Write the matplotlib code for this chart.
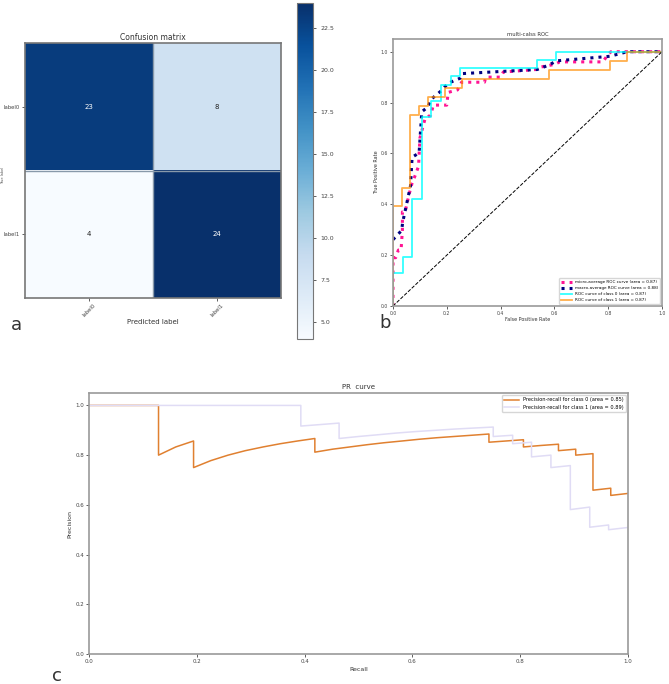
import numpy as np
import matplotlib
matplotlib.use('Agg')
import matplotlib.pyplot as plt

# ---------------------------------------------------------
# data
# ---------------------------------------------------------
cm_labels = ["label0", "label1"]
cm_values = [[23, 8],
             [4, 24]]

# ROC curves (fpr, tpr)
roc0_fpr = [0.0, 0.0, 0.036, 0.036, 0.071, 0.071, 0.107, 0.107, 0.143, 0.143, 0.179, 0.179,
            0.214, 0.214, 0.25, 0.25, 0.536, 0.536, 0.607, 0.607, 1.0]
roc0_tpr = [0.0, 0.129, 0.129, 0.194, 0.194, 0.419, 0.419, 0.742, 0.742, 0.806, 0.806, 0.871,
            0.871, 0.903, 0.903, 0.935, 0.935, 0.968, 0.968, 1.0, 1.0]
roc1_fpr = [0.0, 0.0, 0.032, 0.032, 0.065, 0.065, 0.097, 0.097, 0.129, 0.129, 0.194, 0.194,
            0.258, 0.258, 0.581, 0.581, 0.806, 0.806, 0.871, 0.871, 1.0]
roc1_tpr = [0.0, 0.393, 0.393, 0.464, 0.464, 0.75, 0.75, 0.786, 0.786, 0.821, 0.821, 0.857,
            0.857, 0.893, 0.893, 0.929, 0.929, 0.964, 0.964, 1.0, 1.0]
micro_fpr = [0.0, 0.0, 0.01, 0.02, 0.03, 0.035, 0.035, 0.045, 0.06, 0.07, 0.085, 0.095, 0.1,
             0.11, 0.12, 0.14, 0.15, 0.2, 0.205, 0.24, 0.255, 0.34, 0.345, 0.40, 0.41, 0.53,
             0.55, 0.6, 0.62, 0.78, 0.8, 0.81, 1.0]
micro_tpr = [0.0, 0.19, 0.19, 0.22, 0.22, 0.30, 0.37, 0.37, 0.44, 0.48, 0.52, 0.55, 0.66,
             0.70, 0.74, 0.75, 0.79, 0.79, 0.84, 0.85, 0.88, 0.88, 0.90, 0.90, 0.92, 0.93,
             0.94, 0.95, 0.96, 0.96, 0.99, 1.0, 1.0]
macro_fpr = [0.0, 0.032, 0.036, 0.065, 0.071, 0.097, 0.107, 0.129, 0.143, 0.179, 0.194, 0.214,
             0.25, 0.258, 0.536, 0.581, 0.607, 0.806, 0.871, 1.0]
macro_tpr = [0.261, 0.297, 0.329, 0.472, 0.585, 0.602, 0.764, 0.782, 0.814, 0.846, 0.864, 0.880,
             0.896, 0.914, 0.930, 0.948, 0.964, 0.982, 1.0, 1.0]
roc_labels = ["micro-average ROC curve (area = 0.87)",
              "macro-average ROC curve (area = 0.88)",
              "ROC curve of class 0 (area = 0.87)",
              "ROC curve of class 1 (area = 0.87)"]

# PR curves (recall, precision)
pr0_recall = [0.0, 0.032, 0.065, 0.097, 0.129,
              0.129, 0.161, 0.194,
              0.194, 0.226, 0.258, 0.290, 0.323, 0.355, 0.387, 0.419,
              0.419, 0.452, 0.484, 0.516, 0.548, 0.581, 0.613, 0.645, 0.677, 0.710, 0.742,
              0.742, 0.774, 0.806,
              0.806, 0.839, 0.871,
              0.871, 0.903,
              0.903, 0.935,
              0.935, 0.968,
              0.968, 1.0]
pr0_precision = [1.0, 1.0, 1.0, 1.0, 1.0,
                 0.8, 0.833, 0.857,
                 0.75, 0.778, 0.8, 0.818, 0.833, 0.846, 0.857, 0.867,
                 0.812, 0.824, 0.833, 0.842, 0.85, 0.857, 0.864, 0.870, 0.875, 0.88, 0.885,
                 0.852, 0.857, 0.862,
                 0.833, 0.839, 0.844,
                 0.818, 0.824,
                 0.8, 0.806,
                 0.659, 0.667,
                 0.638, 0.646]
pr1_recall = [0.0, 0.036, 0.071, 0.107, 0.143, 0.179, 0.214, 0.25, 0.286, 0.321, 0.357, 0.393,
              0.393, 0.429, 0.464,
              0.464, 0.5, 0.536, 0.571, 0.607, 0.643, 0.679, 0.714, 0.75,
              0.75, 0.786,
              0.786, 0.821,
              0.821, 0.857,
              0.857, 0.893,
              0.893, 0.929,
              0.929, 0.964,
              0.964, 1.0]
pr1_precision = [1.0, 1.0, 1.0, 1.0, 1.0, 1.0, 1.0, 1.0, 1.0, 1.0, 1.0, 1.0,
                 0.917, 0.923, 0.929,
                 0.867, 0.875, 0.882, 0.889, 0.895, 0.9, 0.905, 0.909, 0.913,
                 0.875, 0.88,
                 0.846, 0.852,
                 0.793, 0.8,
                 0.75, 0.758,
                 0.581, 0.591,
                 0.510, 0.519,
                 0.5, 0.509]
pr_labels = ["Precision-recall for class 0 (area = 0.85)",
             "Precision-recall for class 1 (area = 0.89)"]

spine_col = '#9a9a9a'
tick_col = '#444444'

fig = plt.figure(figsize=(6.69, 6.84), dpi=100)

def style_axes(ax, fs):
    for s in ax.spines.values():
        s.set_color(spine_col)
        s.set_linewidth(1.2)
    ax.tick_params(labelsize=fs, colors=tick_col, length=2, width=0.6, pad=1.5)

# ---------------------------------------------------------
# a. confusion matrix
# ---------------------------------------------------------
ax_cm = fig.add_axes([25 / 669, 1 - 298 / 684, 256 / 669, 255 / 684])
cm = np.array(cm_values)
im = ax_cm.imshow(cm, cmap='Blues', vmin=4, vmax=24, aspect='auto', interpolation='nearest')
ax_cm.set_title("Confusion matrix", fontsize=5.5, color='#333333', pad=2)
ax_cm.set_xticks(range(len(cm_labels)))
ax_cm.set_xticklabels(cm_labels, rotation=45)
ax_cm.set_yticks(range(len(cm_labels)))
ax_cm.set_yticklabels(cm_labels)
ax_cm.set_xlabel("Predicted label", fontsize=5, color='#333333', labelpad=1)
style_axes(ax_cm, 3.8)
for s in ax_cm.spines.values():
    s.set_color('#777777')
ax_cm.axhline(0.5, color='#8899aa', lw=1)
ax_cm.axvline(0.5, color='#8899aa', lw=1)
thresh = cm.max() / 2.0
for i in range(cm.shape[0]):
    for j in range(cm.shape[1]):
        ax_cm.text(j, i, str(cm[i, j]), ha='center', va='center', fontsize=5,
                   color='white' if cm[i, j] > thresh else '#222222')
fig.text(3 / 669, 1 - 175 / 684, "True label", rotation=90, fontsize=2.5,
         color='#555555', ha='center', va='center')

cax = fig.add_axes([297 / 669, 1 - 339 / 684, 16 / 669, 336 / 684])
cb = fig.colorbar(im, cax=cax, ticks=np.arange(5, 24, 2.5))
cb.ax.tick_params(labelsize=4.5, colors=tick_col, length=2, width=0.6)
cb.outline.set_edgecolor('#777777')
cb.ax.set_yticklabels([f"{v:.1f}" for v in np.arange(5, 24, 2.5)])

# ---------------------------------------------------------
# b. multi-class ROC
# ---------------------------------------------------------
ax_roc = fig.add_axes([393 / 669, 1 - 306 / 684, 269 / 669, 267 / 684])
ax_roc.plot(micro_fpr, micro_tpr, color='deeppink', linestyle=':', lw=2.2, label=roc_labels[0])
ax_roc.plot(macro_fpr, macro_tpr, color='navy', linestyle=':', lw=2.2, label=roc_labels[1])
ax_roc.plot(roc0_fpr, roc0_tpr, color='aqua', lw=1.3, alpha=0.8, label=roc_labels[2])
ax_roc.plot(roc1_fpr, roc1_tpr, color='darkorange', lw=1.3, alpha=0.7, label=roc_labels[3])
ax_roc.plot([0, 1], [0, 1], 'k--', lw=0.7)
ax_roc.set_xlim(0.0, 1.0)
ax_roc.set_ylim(0.0, 1.05)
ax_roc.set_xlabel("False Positive Rate", fontsize=3.5, color='#333333', labelpad=1)
ax_roc.set_ylabel("True Positive Rate", fontsize=3.5, color='#333333', labelpad=1)
ax_roc.set_title("multi-calss ROC", fontsize=3.8, color='#333333', pad=2)
style_axes(ax_roc, 3.3)
ax_roc.legend(loc='lower right', fontsize=3, frameon=True, edgecolor='#cccccc',
              handlelength=2.5, borderpad=0.4)

# ---------------------------------------------------------
# c. PR curve
# ---------------------------------------------------------
ax_pr = fig.add_axes([89 / 669, 1 - 654 / 684, 539 / 669, 261 / 684])
ax_pr.plot(pr0_recall, pr0_precision, color='#e08030', lw=1.1, label=pr_labels[0])
ax_pr.plot(pr1_recall, pr1_precision, color='#e0dcf5', lw=1.1, label=pr_labels[1])
ax_pr.set_xlim(0.0, 1.0)
ax_pr.set_ylim(0.0, 1.05)
ax_pr.set_xlabel("Recall", fontsize=4.5, color='#333333', labelpad=2)
ax_pr.set_ylabel("Precision", fontsize=4.5, color='#333333', labelpad=2)
ax_pr.set_title("PR  curve", fontsize=5, color='#333333', pad=3)
style_axes(ax_pr, 4)
ax_pr.legend(loc='upper right', fontsize=3.6, frameon=True, edgecolor='#cccccc',
             handlelength=3, borderpad=0.4)

# panel letters
fig.text(16 / 669, 1 - 325 / 684, "a", fontsize=13, color='#333333', ha='center', va='center')
fig.text(385 / 669, 1 - 323 / 684, "b", fontsize=13, color='#333333', ha='center', va='center')
fig.text(57 / 669, 1 - 676 / 684, "c", fontsize=13, color='#333333', ha='center', va='center')

plt.savefig("out.png", dpi=100)
plt.close()
